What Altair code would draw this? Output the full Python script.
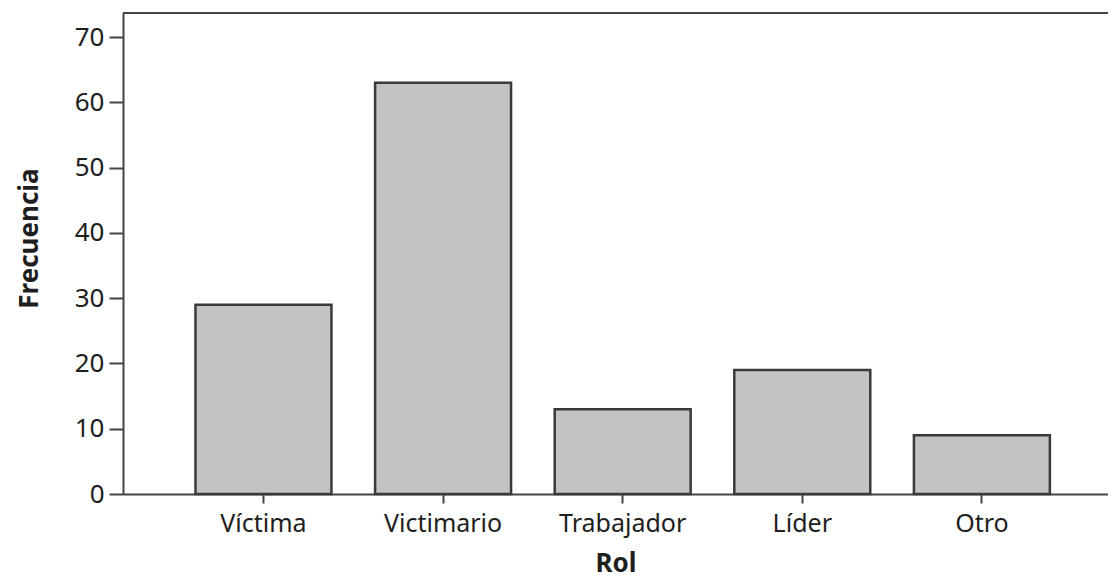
import altair as alt
import pandas as pd

categories = ["Víctima", "Victimario", "Trabajador", "Líder", "Otro"]
values = [29, 63, 13, 19, 9]
y_ticks = [0, 10, 20, 30, 40, 50, 60, 70]

df = pd.DataFrame({"Rol": categories, "Frecuencia": values})

FONT = "Noto Sans"
W, H = 985, 481

bars = alt.Chart(df).mark_bar(
    fill="#c2c3c5", stroke="#3a3a3a", strokeWidth=2.5
).encode(
    x=alt.X("Rol:N", sort=categories,
            scale=alt.Scale(paddingInner=0.243, paddingOuter=0.3636, align=0.555),
            axis=alt.Axis(title="Rol", labelAngle=0, tickSize=9, tickWidth=2,
                          tickColor="#444", domainColor="#444", domainWidth=2,
                          labelFont=FONT, labelFontSize=25, labelColor="#1e1e1e",
                          labelPadding=8, titleFont=FONT, titleFontSize=26,
                          titleFontWeight="bold", titleColor="#1e1e1e",
                          titleY=77, titleBaseline="alphabetic")),
    y=alt.Y("Frecuencia:Q", scale=alt.Scale(domain=[0, 73.7], nice=False),
            axis=alt.Axis(title="Frecuencia", values=y_ticks, grid=False,
                          tickSize=14, tickWidth=2, tickColor="#444",
                          domainColor="#444", domainWidth=2,
                          labelFont=FONT, labelFontSize=26, labelColor="#1e1e1e",
                          labelPadding=5, titleFont=FONT, titleFontSize=26,
                          titleFontWeight="bold", titleColor="#1e1e1e",
                          titleAngle=-90, titleX=-86, titleY=225,
                          titleAlign="center", titleBaseline="alphabetic")),
)

top_rule = alt.Chart(df).mark_rule(color="#444", strokeWidth=2).encode(
    x=alt.value(0), x2=alt.value(W), y=alt.value(0)
)

chart = alt.layer(bars, top_rule).properties(
    width=W, height=H,
    autosize=alt.AutoSizeParams(type="none"),
    padding={"left": 115, "top": 5, "right": 0, "bottom": 86},
).configure_view(fill="#ebebeb", stroke=None).configure(background="white")

chart.save("out.html", embed_options={"renderer": "svg", "actions": False})
